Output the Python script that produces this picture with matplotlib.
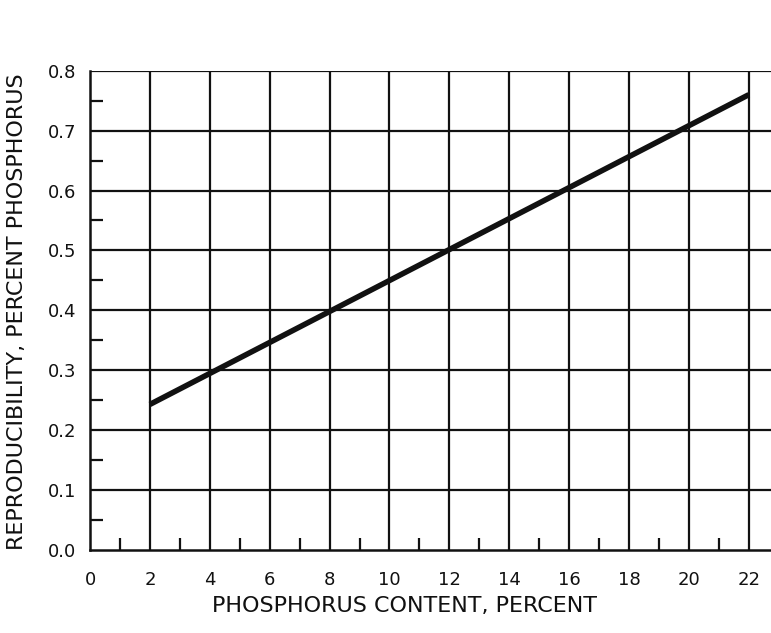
import matplotlib
matplotlib.use("Agg")
import matplotlib.pyplot as plt
import numpy as np

# Data
phosphorus_content = [2, 22]
reproducibility = [0.243, 0.760]
x_ticks = [0, 2, 4, 6, 8, 10, 12, 14, 16, 18, 20, 22]
x_tick_labels = ["0", "2", "4", "6", "8", "10", "12", "14", "16", "18", "20", "22"]
y_ticks = [0.0, 0.1, 0.2, 0.3, 0.4, 0.5, 0.6, 0.7, 0.8]
y_tick_labels = ["0.0", "0.1", "0.2", "0.3", "0.4", "0.5", "0.6", "0.7", "0.8"]
x_minor = [1, 3, 5, 7, 9, 11, 13, 15, 17, 19, 21]
y_minor = [0.05, 0.15, 0.25, 0.35, 0.45, 0.55, 0.65, 0.75]

plt.rcParams['font.family'] = ['DejaVu Sans']
fig = plt.figure(figsize=(7.71, 6.33), dpi=100)
ax = fig.add_axes([90/771, 1-550/633, 1-90/771, (550-70.7)/633])

ax.set_xlim(0, 22.74)
ax.set_ylim(0, 0.8)

# grid
for xv in x_ticks[1:]:
    ax.axvline(xv, color='#111111', lw=1.6, zorder=1)
for yv in y_ticks[1:]:
    ax.axhline(yv, color='#111111', lw=1.6, zorder=1)

ax.plot(phosphorus_content, reproducibility, color='#111111', lw=4, solid_capstyle='butt', zorder=3)

for s in ['top', 'right']:
    ax.spines[s].set_visible(False)
for s in ['left', 'bottom']:
    ax.spines[s].set_linewidth(1.8)
    ax.spines[s].set_color('#111111')

ax.set_xticks(x_ticks)
ax.set_xticklabels(x_tick_labels)
ax.set_yticks(y_ticks)
ax.set_yticklabels(y_tick_labels)
ax.set_xticks(x_minor, minor=True)
ax.set_yticks(y_minor, minor=True)
ax.tick_params(which='major', length=0, labelsize=13, colors='#111111')
ax.tick_params(axis='x', which='major', pad=15)
ax.tick_params(axis='y', which='major', pad=10)
ax.tick_params(which='minor', direction='in', length=9, width=1.6, color='#111111')

ax.set_xlabel("PHOSPHORUS CONTENT, PERCENT", fontsize=16, color='#111111')
ax.set_ylabel("REPRODUCIBILITY, PERCENT PHOSPHORUS", fontsize=16, color='#111111')
ax.xaxis.set_label_coords((404 - 90) / 681, -(596 - 550) / 479.3)
ax.yaxis.set_label_coords(-(90 - 27) / 681, (550 - 312) / 479.3)

fig.savefig("out.png", dpi=100)
